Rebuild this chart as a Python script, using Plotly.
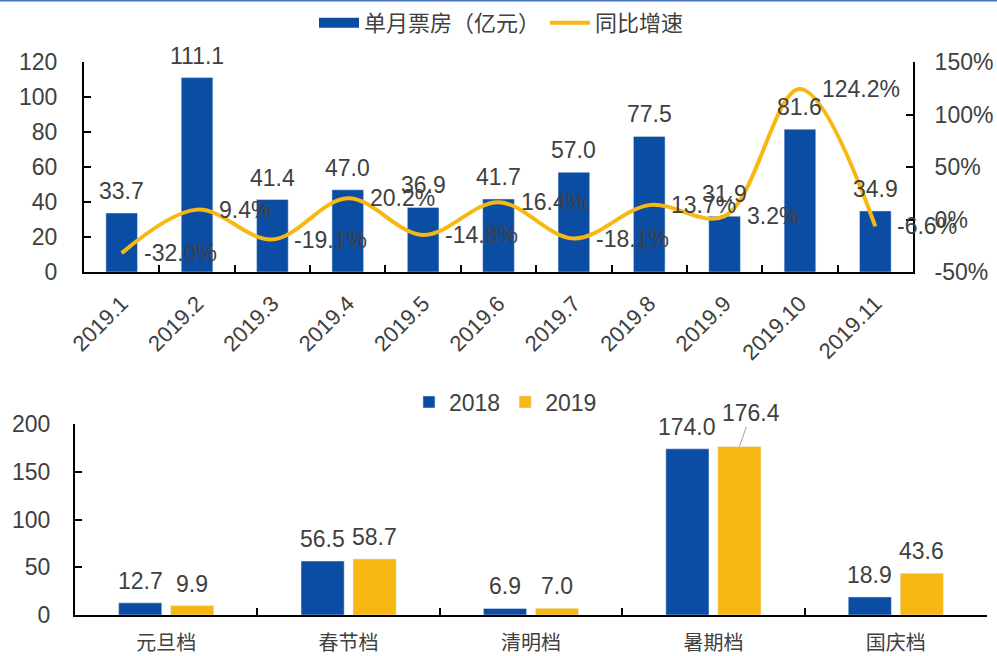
import plotly.graph_objects as go

# ---------------- data ----------------
months = ["2019.1", "2019.2", "2019.3", "2019.4", "2019.5", "2019.6",
          "2019.7", "2019.8", "2019.9", "2019.10", "2019.11"]
box_office = [33.7, 111.1, 41.4, 47.0, 36.9, 41.7, 57.0, 77.5, 31.9, 81.6, 34.9]
yoy_growth = [-32.0, 9.4, -19.1, 20.2, -14.8, 16.4, -18.1, 13.7, 3.2, 124.2, -6.6]

periods = ["元旦档", "春节档", "清明档", "暑期档", "国庆档"]
box_2018 = [12.7, 56.5, 6.9, 174.0, 18.9]
box_2019 = [9.9, 58.7, 7.0, 176.4, 43.6]

left_ticks_top = [0, 20, 40, 60, 80, 100, 120]
right_ticks_top = [-50, 0, 50, 100, 150]
left_ticks_bottom = [0, 50, 100, 150, 200]

# ---------------- style ----------------
BLUE = "#0B4DA2"
YELLOW = "#F8B814"
TXT = "#404040"
NUM_FONT = "Liberation Sans, Arial, sans-serif"
CJK_FONT = "Noto Sans CJK SC, sans-serif"
FS = 23
W, H = 997, 656

top_x_dom = [84 / W, 913 / W]
top_y_dom = [1 - 272 / H, 1 - 62 / H]
bot_x_dom = [75 / W, 987 / W]
bot_y_dom = [1 - 615 / H, 1 - 424 / H]

BARGAP = 0.43
BARGROUPGAP = 0.17

fig = go.Figure()

# top: monthly box office bars
fig.add_trace(go.Bar(x=months, y=box_office, width=0.42, marker_color=BLUE,
                     showlegend=False, xaxis="x", yaxis="y", name="单月票房（亿元）"))
# legend swatch for the bars (wide rectangle like the original)
fig.add_trace(go.Scatter(x=[months[0]], y=[None], mode="lines", name="单月票房（亿元）",
                         line=dict(color=BLUE, width=14), xaxis="x", yaxis="y",
                         legend="legend"))
# top: YoY growth smoothed line
fig.add_trace(go.Scatter(x=months, y=yoy_growth, mode="lines", name="同比增速",
                         line=dict(color=YELLOW, width=4, shape="spline", smoothing=1.0),
                         xaxis="x", yaxis="y2", legend="legend"))

# bottom: holiday periods
fig.add_trace(go.Bar(x=periods, y=box_2018, name="2018", marker_color=BLUE,
                     xaxis="x2", yaxis="y3", legend="legend2"))
fig.add_trace(go.Bar(x=periods, y=box_2019, name="2019", marker_color=YELLOW,
                     xaxis="x2", yaxis="y3", legend="legend2"))

annotations = []
lab_font = dict(family=NUM_FONT, size=FS, color=TXT)
# category axis: numeric-looking labels, so place annotations by category index
for i, v in enumerate(box_office):
    annotations.append(dict(x=i, y=v, xref="x", yref="y", text=f"{v:.1f}",
                            showarrow=False, yanchor="bottom", yshift=7, font=lab_font))
for i, g in enumerate(yoy_growth):
    annotations.append(dict(x=i, y=g, xref="x", yref="y2", text=f"{g:.1f}%",
                            showarrow=False, xanchor="left", xshift=20, font=lab_font))

# bottom labels: offset to each bar of the group
cat_px = (bot_x_dom[1] - bot_x_dom[0]) * W / len(periods)
slot = cat_px * (1 - BARGAP) / 2
leader_idx = max(range(len(box_2019)), key=lambda i: box_2019[i])
for i, p in enumerate(periods):
    annotations.append(dict(x=i, y=box_2018[i], xref="x2", yref="y3",
                            text=f"{box_2018[i]:.1f}", showarrow=False,
                            yanchor="bottom", yshift=7, xshift=-slot / 2, font=lab_font))
    if i == leader_idx:
        annotations.append(dict(x=i, y=box_2019[i], xref="x2", yref="y3",
                                text=f"{box_2019[i]:.1f}", showarrow=True,
                                arrowhead=0, arrowwidth=1, arrowcolor="#A0A0A0",
                                ax=12, ay=-34, xshift=slot / 2, font=lab_font))
    else:
        annotations.append(dict(x=i, y=box_2019[i], xref="x2", yref="y3",
                                text=f"{box_2019[i]:.1f}", showarrow=False,
                                yanchor="bottom", yshift=7, xshift=slot / 2, font=lab_font))

axis_common = dict(showline=True, linecolor="black", linewidth=2, showgrid=False,
                   zeroline=False, ticks="inside", ticklen=7, tickwidth=1.5,
                   tickcolor="black", automargin=False)

fig.update_layout(
    width=W, height=H,
    margin=dict(l=0, r=0, t=0, b=0),
    paper_bgcolor="white", plot_bgcolor="rgba(0,0,0,0)",
    barmode="group", bargap=BARGAP, bargroupgap=BARGROUPGAP,
    font=dict(family=NUM_FONT, size=FS, color=TXT),
    xaxis=dict(domain=top_x_dom, anchor="y", type="category", tickson="boundaries",
               categoryorder="array", categoryarray=months,
               range=[-0.5, len(months) - 0.5],
               tickangle=-45, tickfont=dict(family=NUM_FONT, size=22, color=TXT),
               ticklabelstandoff=8, **axis_common),
    yaxis=dict(domain=top_y_dom, anchor="x", range=[0, 120], tickvals=left_ticks_top,
               tickfont=dict(family=NUM_FONT, size=FS, color=TXT),
               ticklabelstandoff=20, **axis_common),
    yaxis2=dict(overlaying="y", anchor="x", side="right", range=[-50, 150],
                tickmode="array", tickvals=right_ticks_top,
                ticktext=[f"{v}%" for v in right_ticks_top],
                tickfont=dict(family=NUM_FONT, size=FS, color=TXT),
                ticklabelstandoff=15, **axis_common),
    xaxis2=dict(domain=bot_x_dom, anchor="y3", type="category", tickson="boundaries",
                categoryorder="array", categoryarray=periods,
                range=[-0.5, len(periods) - 0.5],
                tickfont=dict(family=CJK_FONT, size=20, color=TXT),
                ticklabelstandoff=9, **axis_common),
    yaxis3=dict(domain=bot_y_dom, anchor="x2", range=[0, 200], tickvals=left_ticks_bottom,
                tickfont=dict(family=NUM_FONT, size=FS, color=TXT),
                ticklabelstandoff=18, **axis_common),
    legend=dict(orientation="h", x=0.503, xanchor="center", y=1 - 23 / H,
                yanchor="middle", font=dict(family=CJK_FONT, size=22, color=TXT),
                bgcolor="rgba(0,0,0,0)", itemwidth=40),
    legend2=dict(orientation="h", x=0.507, xanchor="center", y=1 - 402 / H,
                 yanchor="middle", font=dict(family=NUM_FONT, size=FS, color=TXT),
                 bgcolor="rgba(0,0,0,0)"),
    annotations=annotations,
    shapes=[dict(type="line", xref="paper", yref="paper", x0=0, x1=1, y0=1, y1=1,
                 line=dict(color="#4472C4", width=3))],
)

fig.write_html("out.html", config={"displayModeBar": False},
               post_script="document.body.style.margin='0';")
